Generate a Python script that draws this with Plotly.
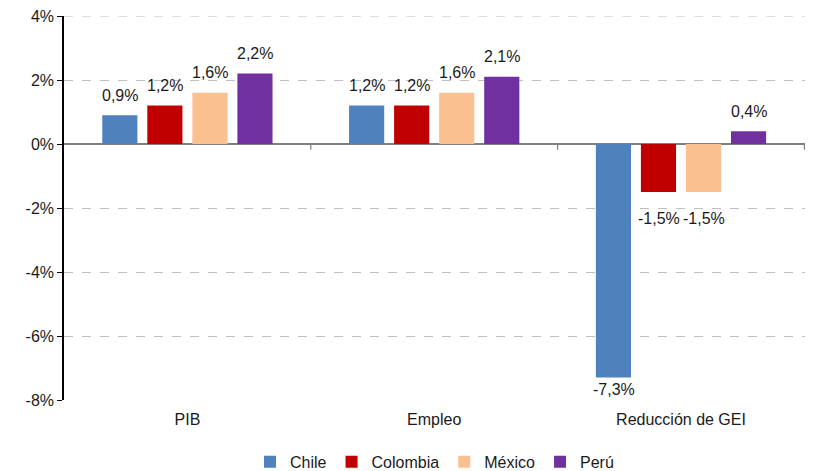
import plotly.graph_objects as go

CATEGORIES = ["PIB", "Empleo", "Reducción de GEI"]
COUNTRIES = ["Chile", "Colombia", "México", "Perú"]
COLORS = ["#4F81BD", "#C00000", "#FAC090", "#7030A0"]
VALUES = {
    "Chile": [0.9, 1.2, -7.3],
    "Colombia": [1.2, 1.2, -1.5],
    "México": [1.6, 1.6, -1.5],
    "Perú": [2.2, 2.1, 0.4],
}
Y_TICKS = [4, 2, 0, -2, -4, -6, -8]

FONT = "Liberation Sans, Arial, sans-serif"
Y_MIN, Y_MAX = -8, 4
PLOT_H = 384  # px of the plot area
PX_PER_UNIT = PLOT_H / (Y_MAX - Y_MIN)
SLOT_PX = 45  # width of one bar slot within a group

fig = go.Figure()
for country, color in zip(COUNTRIES, COLORS):
    fig.add_trace(
        go.Bar(
            name=country,
            x=CATEGORIES,
            y=VALUES[country],
            marker=dict(color=color, line=dict(width=0)),
            cliponaxis=False,
        )
    )

# data labels, Excel style: outside the bar end, kept inside the plot floor
floor_px = -Y_MIN * PX_PER_UNIT
for i, country in enumerate(COUNTRIES):
    for cat, v in zip(CATEGORIES, VALUES[country]):
        end_px = abs(v) * PX_PER_UNIT
        if v >= 0:
            shift = 20
        else:
            centre = min(end_px + 26.5, floor_px - 10.5)
            shift = -(centre - end_px)
        fig.add_annotation(
            x=cat, y=v, text=f"{v:.1f}%".replace(".", ","),
            showarrow=False, xshift=(i - 1.5) * SLOT_PX, yshift=shift,
            yanchor="middle", font=dict(size=16, color="#1a1a1a", family=FONT),
        )

# small tick marks on the zero line between categories
for b in [0.5, 1.5, 2.5]:
    fig.add_shape(
        type="line", xref="x", yref="y", x0=b, x1=b, y0=0, y1=-0.18,
        line=dict(color="#808080", width=1.2),
    )

# plotly skips the gridline on the top edge, draw it explicitly
fig.add_shape(
    type="line", xref="paper", yref="y", x0=0, x1=1, y0=Y_MAX, y1=Y_MAX,
    line=dict(color="#BFBFBF", width=1, dash="dash"), layer="below",
)

# page body adds an 8px offset, margins compensate for it
fig.update_layout(
    width=815,
    height=479,
    separators=",.",
    barmode="group",
    bargap=0.27,
    bargroupgap=0.22,
    plot_bgcolor="white",
    paper_bgcolor="white",
    margin=dict(l=56, r=18, t=8, b=87),
    font=dict(family=FONT, size=16, color="#1a1a1a"),
    legend=dict(
        orientation="h",
        x=0.5,
        xanchor="center",
        y=-0.161,
        yanchor="middle",
        font=dict(size=16),
        itemwidth=30,
        traceorder="normal",
    ),
    showlegend=True,
)

fig.update_yaxes(
    range=[Y_MIN, Y_MAX],
    tickvals=Y_TICKS,
    ticktext=[f"{v}%" for v in Y_TICKS],
    showgrid=True,
    gridcolor="#BFBFBF",
    griddash="dash",
    gridwidth=1,
    zeroline=True,
    zerolinecolor="#808080",
    zerolinewidth=1.5,
    showline=True,
    linecolor="black",
    linewidth=1.5,
    ticks="outside",
    ticklen=5,
    tickcolor="black",
    tickfont=dict(size=16),
    ticklabeloverflow="allow",
    automargin=False,
)
fig.update_xaxes(
    showline=False,
    showgrid=False,
    ticks="outside",
    ticklen=5,
    tickcolor="rgba(0,0,0,0)",
    tickfont=dict(size=16),
    automargin=False,
)

fig.write_html("out.html")
